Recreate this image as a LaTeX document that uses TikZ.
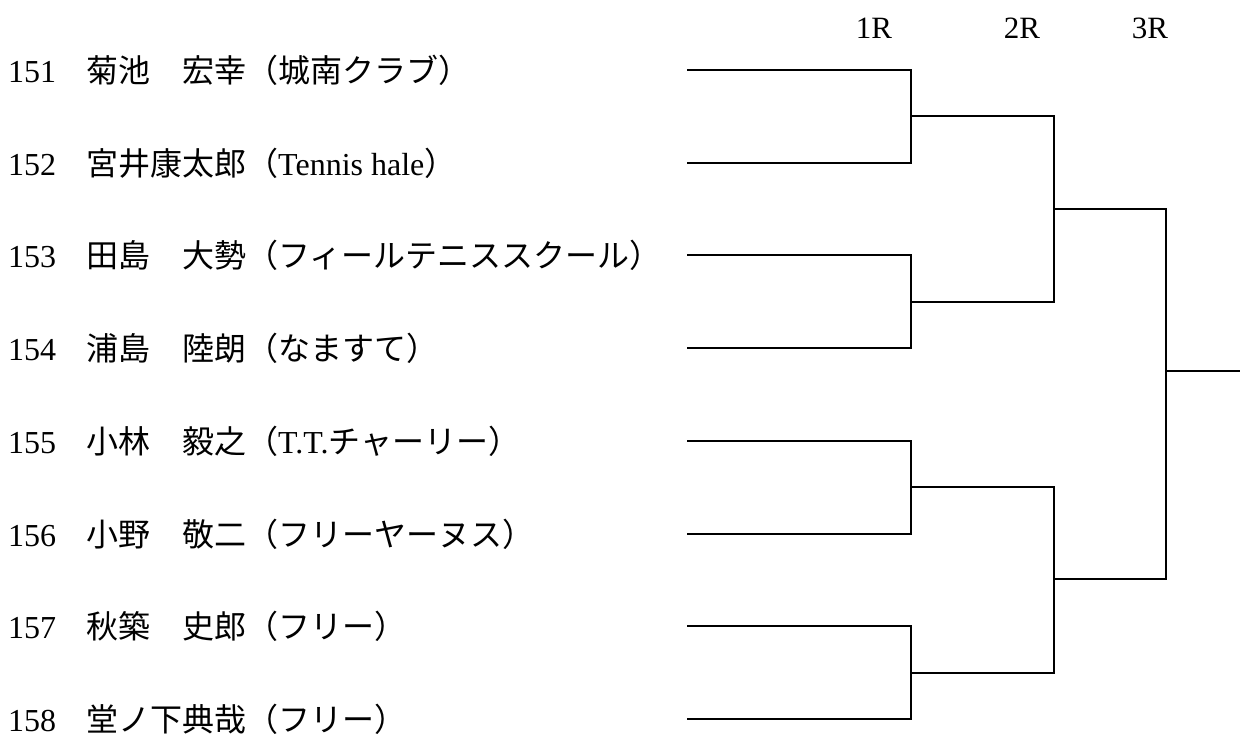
\documentclass[tikz,border=0pt]{standalone}
\usepackage{fontspec}
\setmainfont{Liberation Serif}
\newfontfamily\jp{Noto Sans CJK JP}
\begin{document}
\begin{tikzpicture}[x=1pt,y=-1pt,
  txt/.style={font=\fontsize{32}{38}\selectfont, inner sep=0pt, anchor=base west},
  rnd/.style={font=\fontsize{31}{37}\selectfont, inner sep=0pt},
  bracket/.style={draw=black, line width=1.7pt, line join=miter}]
\useasboundingbox[fill=white] (0,0) rectangle (1240,736);
% round labels
\node[rnd] (r1) at (874,28) {1R};
\node[rnd] (r2) at (1022,28) {2R};
\node[rnd] (r3) at (1150,28) {3R};
% players
\foreach \i/\y/\num/\name in {
  1/70/151/{{\jp 菊池　宏幸（城南クラブ）}},
  2/163/152/{{\jp 宮井康太郎（}Tennis hale{\jp ）}},
  3/255/153/{{\jp 田島　大勢（フィールテニススクール）}},
  4/348/154/{{\jp 浦島　陸朗（なますて）}},
  5/441/155/{{\jp 小林　毅之（}T.T.{\jp チャーリー）}},
  6/534/156/{{\jp 小野　敬二（フリーヤーヌス）}},
  7/626/157/{{\jp 秋築　史郎（フリー）}},
  8/719/158/{{\jp 堂ノ下典哉（フリー）}}}{
  \node[txt] (n\i) at (8,\y+12) {\num};
  \node[txt] (p\i) at (86,\y+12) {\name};
  \coordinate (s\i) at (687,\y);
  \coordinate (e\i) at (911,\y);
}
% first round junctions
\coordinate (j1) at (911,116);
\coordinate (j2) at (911,302);
\coordinate (j3) at (911,487);
\coordinate (j4) at (911,673);
\coordinate (a1) at (1054,116);
\coordinate (a2) at (1054,302);
\coordinate (a3) at (1054,487);
\coordinate (a4) at (1054,673);
\coordinate (k1) at (1054,209);
\coordinate (k2) at (1054,579);
\coordinate (b1) at (1166,209);
\coordinate (b2) at (1166,579);
\coordinate (f0) at (1166,371);
\coordinate (f1) at (1240,371);
% brackets
\draw[bracket] (s1) -- (e1) -- (e2) -- (s2);
\draw[bracket] (s3) -- (e3) -- (e4) -- (s4);
\draw[bracket] (s5) -- (e5) -- (e6) -- (s6);
\draw[bracket] (s7) -- (e7) -- (e8) -- (s8);
\draw[bracket] (j1) -- (a1) -- (a2) -- (j2);
\draw[bracket] (j3) -- (a3) -- (a4) -- (j4);
\draw[bracket] (k1) -- (b1) -- (b2) -- (k2);
\draw[bracket] (f0) -- (f1);
\end{tikzpicture}
\end{document}
